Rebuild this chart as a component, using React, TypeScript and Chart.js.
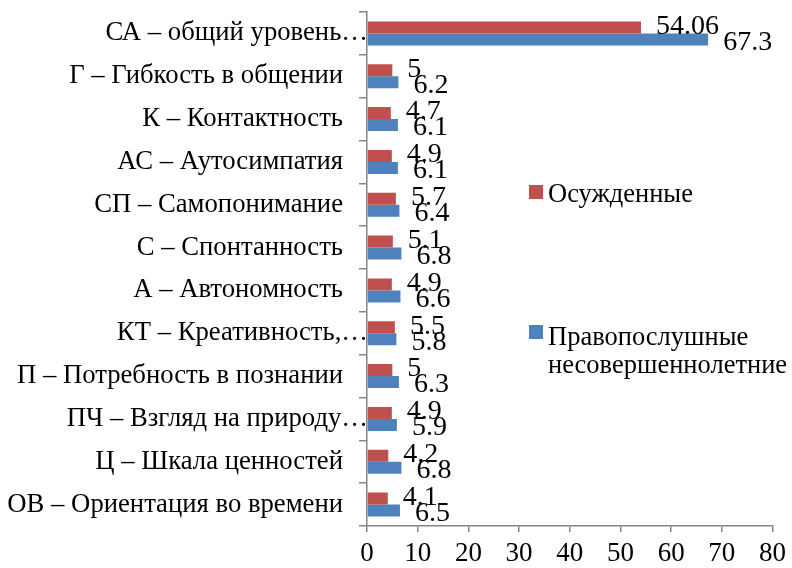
import React, { useEffect, useRef } from "react";
import { Chart, registerables } from "chart.js";

Chart.register(...registerables);

const categories = [
  "СА – общий уровень…",
  "Г – Гибкость в общении",
  "К – Контактность",
  "АС – Аутосимпатия",
  "СП – Самопонимание",
  "С – Спонтанность",
  "А – Автономность",
  "КТ – Креативность,…",
  "П – Потребность в познании",
  "ПЧ – Взгляд на природу…",
  "Ц – Шкала ценностей",
  "ОВ – Ориентация во времени",
];

const convicted = [54.06, 5, 4.7, 4.9, 5.7, 5.1, 4.9, 5.5, 5, 4.9, 4.2, 4.1];
const lawAbiding = [67.3, 6.2, 6.1, 6.1, 6.4, 6.8, 6.6, 5.8, 6.3, 5.9, 6.8, 6.5];
const labelConvicted = ["54.06", "5", "4.7", "4.9", "5.7", "5.1", "4.9", "5.5", "5", "4.9", "4.2", "4.1"];
const labelLawAbiding = ["67.3", "6.2", "6.1", "6.1", "6.4", "6.8", "6.6", "5.8", "6.3", "5.9", "6.8", "6.5"];

const seriesNames = ["Осужденные", "Правопослушные несовершеннолетние"];
const legendLines = [["Осужденные"], ["Правопослушные", "несовершеннолетние"]];
const xTicks = [0, 10, 20, 30, 40, 50, 60, 70, 80];

const RED = "#C0504D";
const BLUE = "#4F81BD";
const AXIS = "#868686";
const FONT = '"Liberation Serif", "Times New Roman", serif';

const customPlugin = {
  id: "custom",
  afterDraw(chart: any) {
    const ctx = chart.ctx;
    const area = chart.chartArea;
    const yScale = chart.scales.y;
    ctx.save();
    // category labels
    ctx.font = `26.7px ${FONT}`;
    ctx.fillStyle = "#000";
    ctx.textAlign = "right";
    ctx.textBaseline = "middle";
    categories.forEach((c, i) => {
      const y = yScale.getPixelForValue(i);
      const right = c.endsWith("…") ? area.left + 1 : area.left - 24;
      ctx.fillText(c, right, y);
    });
    // data labels
    ctx.font = `28px ${FONT}`;
    ctx.textAlign = "left";
    const labels = [labelConvicted, labelLawAbiding];
    const dy = [-1, 3];
    chart.data.datasets.forEach((ds: any, di: number) => {
      const meta = chart.getDatasetMeta(di);
      meta.data.forEach((bar: any, i: number) => {
        ctx.fillText(labels[di][i], bar.x + 15, bar.y + dy[di]);
      });
    });
    // legend
    ctx.font = `26.5px ${FONT}`;
    ctx.textBaseline = "alphabetic";
    const lx = 529;
    const items = [
      { color: RED, top: 185, baselines: [202] },
      { color: BLUE, top: 325, baselines: [345, 373] },
    ];
    items.forEach((it, k) => {
      ctx.fillStyle = it.color;
      ctx.fillRect(lx, it.top, 14, 14);
      ctx.fillStyle = "#000";
      legendLines[k].forEach((line, li) => {
        ctx.fillText(line, lx + 19, it.baselines[li]);
      });
    });
    ctx.restore();
  },
};

export default function App() {
  const ref = useRef<HTMLCanvasElement>(null);
  useEffect(() => {
    document.body.style.margin = "0";
    const chart = new Chart(ref.current!, {
      type: "bar",
      data: {
        labels: categories,
        datasets: [
          {
            label: seriesNames[0],
            data: convicted,
            backgroundColor: RED,
            categoryPercentage: 0.56,
            barPercentage: 1,
          },
          {
            label: seriesNames[1],
            data: lawAbiding,
            backgroundColor: BLUE,
            categoryPercentage: 0.56,
            barPercentage: 1,
          },
        ],
      },
      options: {
        indexAxis: "y",
        responsive: false,
        animation: false,
        events: [],
        layout: { padding: { top: 12, right: 16, left: 0, bottom: 0 } },
        plugins: { legend: { display: false }, tooltip: { enabled: false } },
        scales: {
          x: {
            min: 0,
            max: 80,
            afterBuildTicks: (s: any) => {
              s.ticks = xTicks.map((v) => ({ value: v }));
            },
            afterFit: (s: any) => {
              s.height = 42;
            },
            border: { display: true, color: AXIS, width: 1.5 },
            grid: {
              display: true,
              drawOnChartArea: false,
              drawTicks: true,
              tickLength: 6,
              color: AXIS,
              lineWidth: 1.5,
            },
            ticks: {
              color: "#000",
              font: { family: FONT, size: 27 },
              padding: 6,
              maxRotation: 0,
            },
          },
          y: {
            afterFit: (s: any) => {
              s.width = 367;
            },
            border: { display: true, color: AXIS, width: 1.5 },
            grid: {
              display: true,
              offset: true,
              drawOnChartArea: false,
              drawTicks: true,
              tickLength: 8,
              color: AXIS,
              lineWidth: 1.5,
            },
            ticks: { display: false },
          },
        },
      },
      plugins: [customPlugin],
    });
    return () => chart.destroy();
  }, []);
  return <canvas ref={ref} width={792} height={568} style={{ display: "block" }} />;
}
